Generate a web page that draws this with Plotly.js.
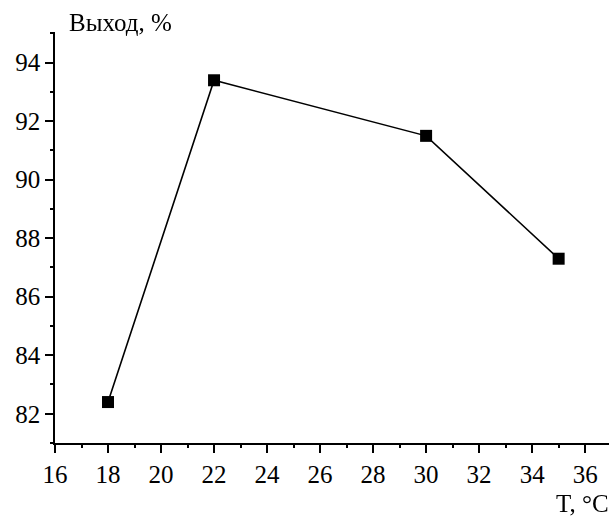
<!DOCTYPE html>
<html><head><meta charset="utf-8">
<script src="https://cdn.plot.ly/plotly-3.0.1.min.js"></script>
<style>
html,body{margin:0;padding:0;background:#fff}
#chart .xtick text, #chart .ytick text {
  font-family: "Liberation Serif", "Times New Roman", serif !important;
  font-size: 25px !important;
  fill: #000 !important;
}
</style>
</head><body>
<div id="chart" style="width:609px;height:519px"></div>
<script>
const temperatures = [18, 22, 30, 35];
const yields = [82.4, 93.4, 91.5, 87.3];
const xTitle = "T, °C";
const yTitle = "Выход, %";
const xRange = [16, 36.9];
const yRange = [81, 95.05];

function mkFont() { return {family: "Liberation Serif", size: 25, color: "#000"}; }

Plotly.newPlot("chart", [{
  x: temperatures, y: yields, type: "scatter", mode: "lines+markers",
  line: {color: "#000", width: 1.6},
  marker: {symbol: "square", size: 12, color: "#000"},
  cliponaxis: false
}, {
  x: temperatures, y: yields, type: "scatter", mode: "markers",
  xaxis: "x2", yaxis: "y2", opacity: 0, hoverinfo: "skip"
}], {
  width: 609, height: 519,
  margin: {l: 55, r: 0, t: 32, b: 76},
  paper_bgcolor: "#fff", plot_bgcolor: "#fff",
  showlegend: false,
  font: mkFont(),
  xaxis: {range: xRange, tick0: 16, dtick: 2, showgrid: false, zeroline: false, showline: true,
    linecolor: "#000", linewidth: 1.5, ticks: "outside", ticklen: 8, tickwidth: 1.5, tickcolor: "#000",
    tickfont: mkFont(), automargin: false},
  yaxis: {range: yRange, tick0: 82, dtick: 2, showgrid: false, zeroline: false, showline: true,
    linecolor: "#000", linewidth: 1.5, ticks: "outside", ticklen: 8, tickwidth: 1.5, tickcolor: "#000",
    tickfont: mkFont(), automargin: false},
  xaxis2: {range: xRange, tick0: 16, dtick: 1, overlaying: "x", side: "bottom", showgrid: false, zeroline: false,
    showline: false, showticklabels: false, ticks: "outside", ticklen: 4, tickwidth: 1.5, tickcolor: "#000"},
  yaxis2: {range: yRange, tick0: 82, dtick: 1, overlaying: "y", side: "left", showgrid: false, zeroline: false,
    showline: false, showticklabels: false, ticks: "outside", ticklen: 4, tickwidth: 1.5, tickcolor: "#000"},
  annotations: [
    {text: yTitle, xref: "paper", yref: "paper", x: 0.022, y: 1, yshift: -6, xanchor: "left", yanchor: "bottom", showarrow: false,
      font: mkFont()},
    {text: xTitle, xref: "paper", yref: "paper", x: 1, y: 0, xanchor: "right", yanchor: "bottom", yshift: -76, xshift: 2, showarrow: false,
      font: mkFont()}
  ]
}, {displayModeBar: false});
</script>
</body></html>
